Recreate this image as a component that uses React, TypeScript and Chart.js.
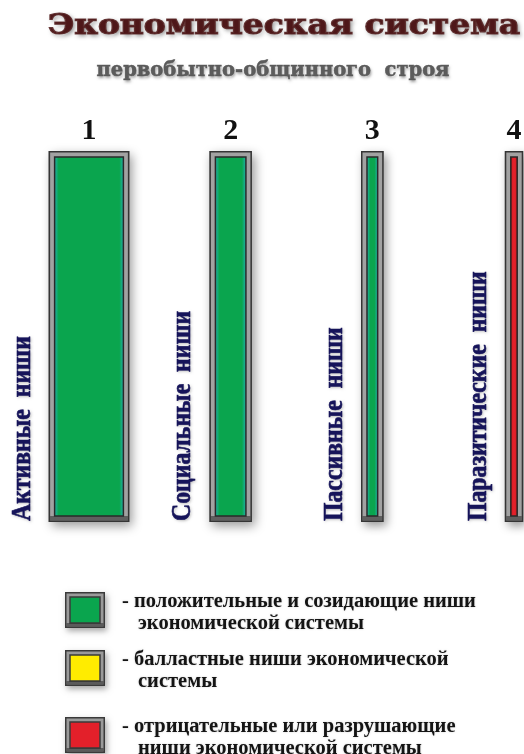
import React, { useEffect, useRef } from "react";
import { Chart, registerables } from "chart.js";

Chart.register(...registerables);

// ---- data ----
const titleText = "Экономическая система";
const subtitleText = "первобытно-общинного  строя";
const categories = ["1", "2", "3", "4"];
const nicheNames = ["Активные  ниши", "Социальные  ниши", "Пассивные  ниши", "Паразитические  ниши"];
const nicheLevels = [100, 100, 100, 100];
const nicheShares = [57, 30, 16, 13]; // relative width of each niche column, %
const nicheKinds = [0, 0, 0, 2]; // index into legend kinds
const legendColors = ["#0aa54e", "#ffec00", "#e3202a"];
const legendLabels = [
  ["- положительные и созидающие ниши", "экономической системы"],
  ["- балластные ниши экономической", "системы"],
  ["- отрицательные или разрушающие", "ниши экономической системы"],
];

const SERIF = '"Liberation Serif", "Times New Roman", serif';
const WIDE_SERIF = '"DejaVu Serif", serif';

function drawFittedText(ctx: CanvasRenderingContext2D, text: string, cx: number, baseline: number, width: number, strokeW: number) {
  const w = ctx.measureText(text).width;
  const s = width / w;
  ctx.save();
  ctx.translate(cx, baseline);
  ctx.scale(s, 1);
  ctx.textAlign = "center";
  ctx.textBaseline = "alphabetic";
  ctx.fillText(text, 0, 0);
  if (strokeW > 0) {
    ctx.shadowColor = "transparent";
    ctx.lineWidth = strokeW;
    ctx.strokeText(text, 0, 0);
  }
  ctx.restore();
}

function framedRect(ctx: CanvasRenderingContext2D, x: number, y: number, w: number, h: number, fill: string) {
  ctx.save();
  ctx.shadowColor = "rgba(0,0,0,0.35)";
  ctx.shadowBlur = 6;
  ctx.shadowOffsetX = 2;
  ctx.shadowOffsetY = 3;
  ctx.fillStyle = "#9a9a9a";
  ctx.fillRect(x, y, w, h);
  ctx.restore();
  ctx.fillStyle = fill;
  ctx.fillRect(x + 5, y + 5, w - 10, h - 10);
  ctx.strokeStyle = "#3a3a3a";
  ctx.lineWidth = 1.5;
  ctx.strokeRect(x + 0.75, y + 0.75, w - 1.5, h - 1.5);
  ctx.strokeRect(x + 5, y + 5, w - 10, h - 10);
  ctx.fillStyle = "rgba(40,40,40,0.55)";
  ctx.fillRect(x + 1.5, y + h - 5, w - 3, 3.5);
}

const decorPlugin = {
  id: "decor",
  beforeDatasetsDraw(chart: any) {
    const ctx = chart.ctx as CanvasRenderingContext2D;
    chart.data.datasets.forEach((ds: any, i: number) => {
      const meta = chart.getDatasetMeta(i);
      meta.data.forEach((el: any, j: number) => {
        if (ds.data[j] == null) return;
        const { x, y, base, width } = el.getProps(["x", "y", "base", "width"], true);
        ctx.save();
        ctx.shadowColor = "rgba(0,0,0,0.4)";
        ctx.shadowBlur = 10;
        ctx.shadowOffsetX = 3;
        ctx.shadowOffsetY = 4;
        ctx.fillStyle = "#999";
        ctx.fillRect(x - width / 2, y, width, base - y);
        ctx.restore();
      });
    });
  },
  afterDatasetsDraw(chart: any) {
    const ctx = chart.ctx as CanvasRenderingContext2D;
    chart.data.datasets.forEach((ds: any, i: number) => {
      const meta = chart.getDatasetMeta(i);
      meta.data.forEach((el: any, j: number) => {
        if (ds.data[j] == null) return;
        const { x, y, base, width } = el.getProps(["x", "y", "base", "width"], true);
        const l = x - width / 2;
        const bw = 6;
        const il = l + bw, ir = l + width - bw, it = y + bw, ib = base - bw;
        const red = nicheKinds[i] === 2;
        const g = ctx.createLinearGradient(il, 0, ir, 0);
        const edge = red ? "rgba(110,0,0,0.55)" : "rgba(40,180,200,0.75)";
        const clear = red ? "rgba(110,0,0,0)" : "rgba(40,180,200,0)";
        const f = Math.min(0.3, 4 / Math.max(1, ir - il));
        g.addColorStop(0, edge);
        g.addColorStop(f, clear);
        g.addColorStop(1 - f, clear);
        g.addColorStop(1, edge);
        ctx.fillStyle = g;
        ctx.fillRect(il, it, ir - il, ib - it);
        ctx.strokeStyle = "#353535";
        ctx.lineWidth = 1.5;
        ctx.strokeRect(l + 0.75, y + 0.75, width - 1.5, base - y - 1.5);
        ctx.strokeStyle = "#2a2a2a";
        ctx.strokeRect(il, it, ir - il, ib - it);
        ctx.fillStyle = "rgba(40,40,40,0.55)";
        ctx.fillRect(l + 1.5, ib, width - 3, bw - 1.5);
      });
    });
  },
  afterDraw(chart: any) {
    const ctx = chart.ctx as CanvasRenderingContext2D;
    // title
    ctx.save();
    ctx.font = `bold 27px ${WIDE_SERIF}`;
    ctx.shadowColor = "rgba(0,0,0,0.45)";
    ctx.shadowBlur = 4;
    ctx.shadowOffsetX = 2;
    ctx.shadowOffsetY = 2;
    ctx.fillStyle = "#4e1719";
    ctx.strokeStyle = "rgba(90,40,40,0.9)";
    drawFittedText(ctx, titleText, 284, 34, 472, 1.2);
    ctx.restore();
    ctx.save();
    ctx.font = `bold 21px ${WIDE_SERIF}`;
    ctx.shadowColor = "rgba(0,0,0,0.4)";
    ctx.shadowBlur = 3;
    ctx.shadowOffsetX = 1;
    ctx.shadowOffsetY = 2;
    ctx.fillStyle = "#5c5c5c";
    ctx.strokeStyle = "rgba(80,80,80,0.8)";
    drawFittedText(ctx, subtitleText, 273, 76, 353, 0.6);
    ctx.restore();

    // vertical niche names
    const area = chart.chartArea;
    nicheNames.forEach((name, i) => {
      const el: any = chart.getDatasetMeta(i).data[i];
      const left = el.x - el.width / 2;
      ctx.save();
      ctx.translate(left - 26, area.bottom - 1);
      ctx.rotate(-Math.PI / 2);
      ctx.scale(0.88, 1);
      ctx.font = `bold 27px ${SERIF}`;
      ctx.fillStyle = "#16145a";
      ctx.strokeStyle = "#16145a";
      ctx.lineWidth = 0.6;
      ctx.textAlign = "left";
      ctx.textBaseline = "middle";
      ctx.shadowColor = "rgba(0,0,0,0.3)";
      ctx.shadowBlur = 3;
      ctx.shadowOffsetX = 1;
      ctx.shadowOffsetY = 1;
      ctx.fillText(name, 0, 0);
      ctx.shadowColor = "transparent";
      ctx.strokeText(name, 0, 0);
      ctx.restore();
    });

    // legend
    const tops = [592, 650, 717];
    legendLabels.forEach((lines, k) => {
      const top = tops[k];
      framedRect(ctx, 65, top, 40, 36, legendColors[k]);
      ctx.save();
      ctx.font = `bold 20.5px ${SERIF}`;
      ctx.fillStyle = "#141414";
      ctx.textAlign = "left";
      ctx.textBaseline = "alphabetic";
      ctx.shadowColor = "rgba(0,0,0,0.2)";
      ctx.shadowBlur = 2;
      ctx.fillText(lines[0], 122, top + 15);
      if (lines[1]) ctx.fillText(lines[1], 138, top + 37);
      ctx.restore();
    });
  },
};

export default function App() {
  const ref = useRef<HTMLCanvasElement | null>(null);
  useEffect(() => {
    document.body.style.margin = "0";
    const canvas = ref.current;
    if (!canvas) return;
    const datasets = categories.map((_, i) => ({
      label: nicheNames[i],
      data: categories.map((__, j) => (j === i ? nicheLevels[i] : null)),
      backgroundColor: legendColors[nicheKinds[i]],
      borderColor: "#a2a2a2",
      borderWidth: 6,
      borderSkipped: false,
      grouped: false,
      categoryPercentage: 1,
      barPercentage: nicheShares[i] / 100,
      clip: false,
    }));
    const chart = new Chart(canvas, {
      type: "bar",
      data: { labels: categories, datasets: datasets as any },
      options: {
        responsive: false,
        animation: false,
        layout: { padding: { top: 111, left: 89, right: 10, bottom: 232 } },
        plugins: {
          legend: { display: false },
          tooltip: { enabled: false },
          title: { display: false },
        },
        scales: {
          x: {
            type: "category",
            position: "top",
            offset: false,
            grid: { display: false, drawTicks: false },
            border: { display: false },
            ticks: {
              font: { family: SERIF, size: 30, weight: "bold" },
              color: "#111",
              padding: 2,
              maxRotation: 0,
              autoSkip: false,
            },
          },
          y: { display: false, min: 0, max: 100 },
        },
      },
      plugins: [decorPlugin],
    });
    return () => chart.destroy();
  }, []);
  return <canvas ref={ref} width={524} height={754} style={{ display: "block" }} />;
}
